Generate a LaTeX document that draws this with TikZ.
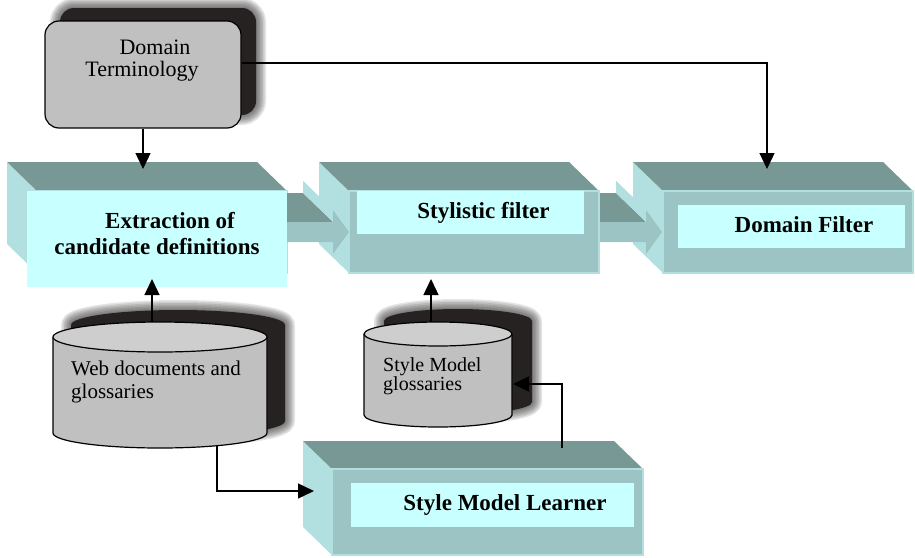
\documentclass[tikz,border=0pt]{standalone}
\usepackage{fontspec}
\setmainfont{Liberation Serif}
\usetikzlibrary{arrows.meta}
\definecolor{boxtop}{RGB}{120,152,150}
\definecolor{boxfront}{RGB}{156,196,196}
\definecolor{boxside}{RGB}{178,224,224}
\definecolor{boxlight}{RGB}{200,255,255}
\definecolor{storegray}{RGB}{192,192,192}
\definecolor{storetop}{RGB}{206,206,206}
\definecolor{shadowdark}{RGB}{38,34,34}
\begin{document}
\begin{tikzpicture}[x=1pt,y=-1pt,
    topface/.style={fill=boxtop},
    sideface/.style={fill=boxside},
    frontface/.style={fill=boxfront,draw=boxside,line width=1.5pt},
    lightrect/.style={fill=boxlight,inner sep=0pt,anchor=north west},
    termbox/.style={draw,fill=storegray,line width=1.2pt,rounded corners=14pt,
        minimum width=196pt,minimum height=107pt,inner sep=0pt},
    storefill/.style={fill=storegray,draw,line width=1.2pt},
    boldtext/.style={font=\fontsize{23}{26}\selectfont\bfseries,align=center,inner sep=0pt},
    link/.style={line width=1.3pt,-{Triangle[width=15pt,length=16pt]}},
    shadowcore/.style={fill=shadowdark},
    shadowlayer/.style={draw=shadowdark,opacity=0.12,line join=round}]
    \useasboundingbox (0,0) rectangle (915,557);

    % Shadows
    \fill[shadowcore,rounded corners=14pt] (60,8) rectangle (256,115);
    \foreach \w in {20,17,14,11,8,5,2}
        \draw[shadowlayer,line width=\w pt,rounded corners=14pt] (60,8) rectangle (256,115);
    \begin{scope}[shift={(18,-12)}]
        \fill[shadowcore] (53,337) -- (53,433) arc[start angle=180,end angle=0,x radius=107,y radius=15]
            -- (267,337) arc[start angle=0,end angle=-180,x radius=107,y radius=15] -- cycle;
        \foreach \w in {20,17,14,11,8,5,2}
            \draw[shadowlayer,line width=\w pt] (53,337) -- (53,433) arc[start angle=180,end angle=0,x radius=107,y radius=15]
                -- (267,337) arc[start angle=0,end angle=-180,x radius=107,y radius=15] -- cycle;
    \end{scope}
    \begin{scope}[shift={(20,-13)}]
        \fill[shadowcore] (364,334) -- (364,415) arc[start angle=180,end angle=0,x radius=74,y radius=12]
            -- (512,334) arc[start angle=0,end angle=-180,x radius=74,y radius=12] -- cycle;
        \foreach \w in {20,17,14,11,8,5,2}
            \draw[shadowlayer,line width=\w pt] (364,334) -- (364,415) arc[start angle=180,end angle=0,x radius=74,y radius=12]
                -- (512,334) arc[start angle=0,end angle=-180,x radius=74,y radius=12] -- cycle;
    \end{scope}

    % Domain terminology
    \node[termbox] (term) at (143,74.5) {};
    \node[font=\fontsize{22}{22}\selectfont,align=center,inner sep=0pt] (termtext) at (142,61)
        {\hspace*{26pt}Domain\\Terminology};

    % Stores
    \filldraw[storefill] (53,337) -- (53,433) arc[start angle=180,end angle=0,x radius=107,y radius=15] -- (267,337);
    \filldraw[storefill,fill=storetop] (160,337) ellipse[x radius=107,y radius=15];
    \node[font=\fontsize{21}{23}\selectfont,align=left,inner sep=0pt,anchor=north west] (webtext) at (71,360.5)
        {Web documents and\\glossaries};
    \filldraw[storefill] (364,334) -- (364,415) arc[start angle=180,end angle=0,x radius=74,y radius=12] -- (512,334);
    \filldraw[storefill,fill=storetop] (438,334) ellipse[x radius=74,y radius=12];
    \node[font=\fontsize{20}{19}\selectfont,align=left,inner sep=0pt,anchor=north west] (styletext) at (383,357.5)
        {Style Model\\glossaries};

    % Boxes
    \foreach \fx in {37,349,663} {
        \fill[sideface] (\fx-30,162) -- (\fx,191) -- (\fx,273) -- (\fx-30,244) -- cycle;
        \fill[topface] (\fx-30,162) -- (\fx+220,162) -- (\fx+250,191) -- (\fx,191) -- cycle;
        \filldraw[frontface] (\fx,191) rectangle (\fx+250,273);
    }
    \fill[sideface] (303,441) -- (332,469) -- (332,555) -- (303,527) -- cycle;
    \fill[topface] (303,441) -- (614,441) -- (643,469) -- (332,469) -- cycle;
    \filldraw[frontface] (332,469) rectangle (643,555);

    % Block arrows
    \foreach \dx in {0,313} {
        \begin{scope}[xshift=\dx pt]
            \fill[topface] (287,222) -- (333,222) -- (303,193) -- (287,193) -- cycle;
            \fill[sideface] (303,181) -- (333,210) -- (333,222) -- (303,193) -- cycle;
            \fill[sideface] (333,210) -- (349,232) -- (319,203) -- (303,181) -- cycle;
            \fill[boxfront] (287,222) -- (333,222) -- (333,210) -- (349,232) -- (333,254)
                -- (333,242) -- (287,242) -- cycle;
        \end{scope}
    }

    % Labels
    \node[lightrect,minimum width=260pt,minimum height=96pt] (extract) at (27,191) {};
    \node[lightrect,minimum width=227pt,minimum height=43pt] (stylistic) at (357,191) {};
    \node[lightrect,minimum width=227pt,minimum height=43pt] (filter) at (678,205) {};
    \node[lightrect,minimum width=283pt,minimum height=44pt] (learner) at (351,483) {};
    \node[boldtext] (extracttext) at (157,234) {\hspace*{26pt}Extraction of\\candidate definitions};
    \node[boldtext,anchor=base] (stylistictext) at (483.5,218) {Stylistic filter};
    \node[boldtext,anchor=base] (filtertext) at (804,232) {Domain Filter};
    \node[boldtext,anchor=base] (learnertext) at (505,510) {Style Model Learner};

    % Connectors
    \coordinate (extracttop) at (143,169);
    \coordinate (filtertop) at (767,169);
    \coordinate (webtop) at (152,322);
    \coordinate (extractin) at (152,279);
    \coordinate (webbottom) at (217,446);
    \coordinate (learnerin) at (314,491);
    \coordinate (learnerout) at (562,448);
    \coordinate (styleright) at (513,384);
    \coordinate (styletop) at (431,322);
    \coordinate (stylisticin) at (431,279);
    \draw[link] (term.south) -- (extracttop);
    \draw[link] ([yshift=11.5pt]term.east) -| (filtertop);
    \draw[link] (webtop) -- (extractin);
    \draw[link] (webbottom) |- (learnerin);
    \draw[link] (learnerout) |- (styleright);
    \draw[link] (styletop) -- (stylisticin);
\end{tikzpicture}
\end{document}
